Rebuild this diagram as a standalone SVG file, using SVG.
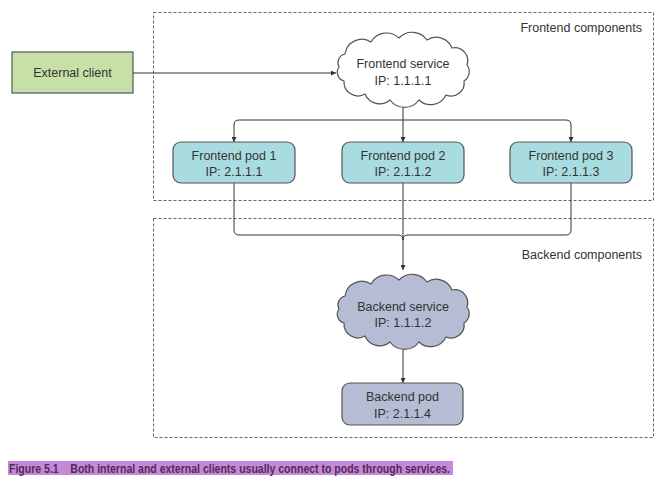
<svg xmlns="http://www.w3.org/2000/svg" xmlns:xlink="http://www.w3.org/1999/xlink" width="671" height="483" viewBox="0 0 671 483">
<style>
  .grp { fill: none; stroke: #666; stroke-width: 1; stroke-dasharray: 3 2; }
  .lbl { font-family: "Liberation Sans", Arial, sans-serif; font-size: 12.5px; fill: #333; }
  .node { stroke: #555; stroke-width: 1.2; }
  .conn { fill: none; stroke: #333; stroke-width: 1; }
  .cap { font-family: "Liberation Sans", Arial, sans-serif; font-size: 13px; font-weight: bold; fill: #4a2f58; }
</style>
<defs>
  <marker id="arr" viewBox="0 0 10 10" refX="10" refY="5" markerWidth="5" markerHeight="5" orient="auto" markerUnits="userSpaceOnUse">
    <path d="M0,0 L10,5 L0,10 z" fill="#333"/>
  </marker>
  <path id="cloud" d="M-59,-15 A17,17 0 0 1 -33,-27 A18,18 0 0 1 -5,-31 A18,18 0 0 1 23,-29 A17,17 0 0 1 48,-21 A13,13 0 0 1 63,-4 A11,11 0 0 1 60,12 A13,13 0 0 1 42,26 A17,17 0 0 1 15,31 A18,18 0 0 1 -14,31 A16,16 0 0 1 -39,25 A14,14 0 0 1 -60,12 A9,9 0 0 1 -65,-2 A9,9 0 0 1 -59,-15 Z"/>
</defs>
<rect width="671" height="483" fill="#fff"/>

<g id="frontend-components">
  <rect class="grp" x="153.5" y="12.5" width="500" height="188"/>
  <text class="lbl" x="642" y="32" text-anchor="end">Frontend components</text>
</g>
<g id="backend-components">
  <rect class="grp" x="153.5" y="218.5" width="500" height="219"/>
  <text class="lbl" x="642" y="259" text-anchor="end">Backend components</text>
</g>

<g id="connectors">
  <path class="conn" d="M133,73 H336" marker-end="url(#arr)"/>
  <path class="conn" d="M403,108 V142" marker-end="url(#arr)"/>
  <path class="conn" d="M403,120 H239 Q234,120 234,125 V142" marker-end="url(#arr)"/>
  <path class="conn" d="M403,120 H566 Q571,120 571,125 V142" marker-end="url(#arr)"/>
  <path class="conn" d="M234,183 V230 Q234,235 239,235 H398 Q403,235 403,240"/>
  <path class="conn" d="M571,183 V230 Q571,235 566,235 H408 Q403,235 403,240"/>
  <path class="conn" d="M403,183 V270" marker-end="url(#arr)"/>
  <path class="conn" d="M403,350 V383" marker-end="url(#arr)"/>
</g>

<g id="external-client">
  <rect class="node" x="12" y="52" width="121" height="41" fill="#c6e0a8"/>
  <text class="lbl" x="72.5" y="77" text-anchor="middle">External client</text>
</g>

<g id="frontend-service">
  <use xlink:href="#cloud" href="#cloud" transform="translate(404,69)" fill="#fff" stroke="#555" stroke-width="1.2"/>
  <text class="lbl" x="403" y="68" text-anchor="middle">Frontend service</text>
  <text class="lbl" x="403" y="85" text-anchor="middle">IP: 1.1.1.1</text>
</g>

<g id="frontend-pod-1">
  <rect class="node" x="173" y="142" width="122" height="41" rx="8" fill="#a9dce1"/>
  <text class="lbl" x="234" y="160" text-anchor="middle">Frontend pod 1</text>
  <text class="lbl" x="234" y="176" text-anchor="middle">IP: 2.1.1.1</text>
</g>
<g id="frontend-pod-2">
  <rect class="node" x="342" y="142" width="122" height="41" rx="8" fill="#a9dce1"/>
  <text class="lbl" x="403" y="160" text-anchor="middle">Frontend pod 2</text>
  <text class="lbl" x="403" y="176" text-anchor="middle">IP: 2.1.1.2</text>
</g>
<g id="frontend-pod-3">
  <rect class="node" x="510" y="142" width="122" height="41" rx="8" fill="#a9dce1"/>
  <text class="lbl" x="571" y="160" text-anchor="middle">Frontend pod 3</text>
  <text class="lbl" x="571" y="176" text-anchor="middle">IP: 2.1.1.3</text>
</g>

<g id="backend-service">
  <use xlink:href="#cloud" href="#cloud" transform="translate(404,311)" fill="#b5bcd3" stroke="#555" stroke-width="1.2"/>
  <text class="lbl" x="403" y="311" text-anchor="middle">Backend service</text>
  <text class="lbl" x="403" y="327" text-anchor="middle">IP: 1.1.1.2</text>
</g>

<g id="backend-pod">
  <rect class="node" x="342" y="383" width="121" height="42" rx="8" fill="#b5bcd3"/>
  <text class="lbl" x="402.5" y="401" text-anchor="middle">Backend pod</text>
  <text class="lbl" x="402.5" y="418" text-anchor="middle">IP: 2.1.1.4</text>
</g>

<g id="caption">
  <rect x="8" y="461" width="445" height="14" fill="#c987d8"/>
  <text class="cap" x="9" y="473" textLength="441" lengthAdjust="spacingAndGlyphs" xml:space="preserve">Figure 5.1    Both internal and external clients usually connect to pods through services.</text>
</g>
</svg>
